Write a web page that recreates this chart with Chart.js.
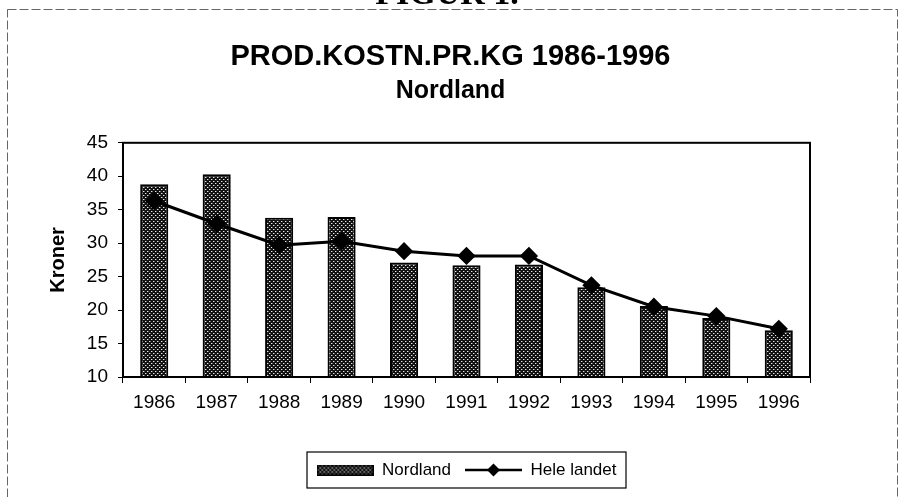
<!DOCTYPE html>
<html>
<head>
<meta charset="utf-8">
<script src="https://cdn.jsdelivr.net/npm/chart.js@4.4.1/dist/chart.umd.min.js"></script>
<style>
    html, body { margin: 0; padding: 0; background: #fff; }
</style>
</head>
<body>
<canvas id="GraficoProdKostn" width="901" height="497"></canvas>
<script>
/* Data lest av figuren */
var aar = ['1986', '1987', '1988', '1989', '1990', '1991', '1992', '1993', '1994', '1995', '1996'];
var nordland = [38.8, 40.3, 33.8, 33.9, 27.1, 26.7, 26.8, 23.4, 20.6, 18.8, 17.0];
var heleLandet = [36.3, 32.9, 29.7, 30.3, 28.8, 28.1, 28.1, 23.7, 20.5, 19.1, 17.2];
var yMin = 10, yMax = 45, ySteg = 5;

var fonte = "'Liberation Sans', Arial, sans-serif";

/* Prikkemønster for søylene */
function LagMonster() {
    var c = document.createElement('canvas');
    c.width = 4; c.height = 4;
    var g = c.getContext('2d');
    g.fillStyle = '#111';
    g.fillRect(0, 0, 4, 4);
    g.fillStyle = '#e8e8e8';
    g.fillRect(1, 1, 1, 1);
    g.fillRect(3, 3, 1, 1);
    g.fillStyle = '#666';
    g.fillRect(2, 1, 1, 1);
    g.fillRect(0, 3, 1, 1);
    return g.createPattern(c, 'repeat');
}

function LegendSoyle(monster) {
    var c = document.createElement('canvas');
    c.width = 57; c.height = 11;
    var g = c.getContext('2d');
    g.fillStyle = monster;
    g.fillRect(0, 0, 57, 11);
    g.strokeStyle = '#000';
    g.lineWidth = 1.5;
    g.strokeRect(0.75, 0.75, 55.5, 9.5);
    return c;
}

function LegendLinje() {
    var c = document.createElement('canvas');
    c.width = 57; c.height = 14;
    var g = c.getContext('2d');
    g.strokeStyle = '#000';
    g.lineWidth = 2.5;
    g.beginPath();
    g.moveTo(0, 7); g.lineTo(57, 7);
    g.stroke();
    g.fillStyle = '#000';
    g.beginPath();
    g.moveTo(28.5, 0.5); g.lineTo(35, 7); g.lineTo(28.5, 13.5); g.lineTo(22, 7);
    g.closePath();
    g.fill();
    return c;
}

var ctx = document.getElementById('GraficoProdKostn').getContext('2d');
var monster = LagMonster();
var bildeSoyle = LegendSoyle(monster);
var bildeLinje = LegendLinje();

/* Ramme, toppskrift og boks rundt plott og forklaring */
var rammePlugin = {
    id: 'ramme',
    beforeDraw: function (chart) {
        var g = chart.ctx;
        g.save();
        g.fillStyle = '#fff';
        g.fillRect(0, 0, chart.width, chart.height);
        g.strokeStyle = '#666';
        g.lineWidth = 1;
        g.setLineDash([9, 3]);
        g.strokeRect(7.5, 9.5, 890, 500);
        g.setLineDash([]);
        g.fillStyle = '#000';
        g.font = "bold 34px 'Liberation Serif', serif";
        g.textAlign = 'center';
        g.textBaseline = 'alphabetic';
        g.fillText('FIGUR 1.', 447, 4);
        g.restore();
    },
    afterDraw: function (chart) {
        var g = chart.ctx;
        var a = chart.chartArea;
        g.save();
        g.strokeStyle = '#000';
        g.lineWidth = 2;
        g.strokeRect(a.left, a.top, a.right - a.left, a.bottom - a.top);

        var bokser = chart.legend.legendHitBoxes;
        if (bokser && bokser.length) {
            var venstre = bokser[0].left, hoyre = 0, topp = bokser[0].top, bunn = 0;
            bokser.forEach(function (b) {
                venstre = Math.min(venstre, b.left);
                hoyre = Math.max(hoyre, b.left + b.width);
                topp = Math.min(topp, b.top);
                bunn = Math.max(bunn, b.top + b.height);
            });
            g.lineWidth = 1.2;
            g.strokeRect(venstre - 9.5, topp - 9.5, hoyre - venstre + 19, bunn - topp + 19);
        }
        g.restore();
    }
};

var grafico = new Chart(ctx, {
    type: 'bar',
    data: {
        labels: aar,
        datasets: [{
            type: 'bar',
            label: 'Nordland',
            data: nordland,
            backgroundColor: monster,
            borderColor: '#000',
            borderWidth: 2,
            categoryPercentage: 0.5,
            barPercentage: 0.9,
            order: 2
        }, {
            type: 'line',
            label: 'Hele landet',
            data: heleLandet,
            borderColor: '#000',
            borderWidth: 3,
            backgroundColor: '#000',
            pointStyle: 'rectRot',
            pointRadius: 7,
            pointBackgroundColor: '#000',
            pointBorderColor: '#000',
            tension: 0,
            order: 1
        }]
    },
    options: {
        responsive: false,
        animation: false,
        layout: { padding: { left: 10, right: 10, top: 0, bottom: 8.5 } },
        plugins: {
            tooltip: { enabled: false },
            title: {
                display: true,
                text: 'PROD.KOSTN.PR.KG 1986-1996',
                color: '#000',
                font: { family: fonte, size: 29, weight: 'bold' },
                padding: { top: 40, bottom: 1 }
            },
            subtitle: {
                display: true,
                text: 'Nordland',
                color: '#000',
                font: { family: fonte, size: 25, weight: 'bold' },
                padding: { top: 0, bottom: 37 }
            },
            legend: {
                position: 'bottom',
                fullSize: false,
                labels: {
                    color: '#000',
                    font: { family: fonte, size: 17 },
                    usePointStyle: true,
                    pointStyleWidth: 57,
                    padding: 14,
                    generateLabels: function (chart) {
                        return [{
                            text: 'Nordland',
                            pointStyle: bildeSoyle,
                            fillStyle: monster,
                            strokeStyle: '#000',
                            lineWidth: 0,
                            datasetIndex: 0,
                            fontColor: '#000'
                        }, {
                            text: 'Hele landet',
                            pointStyle: bildeLinje,
                            fillStyle: '#000',
                            strokeStyle: '#000',
                            lineWidth: 0,
                            datasetIndex: 1,
                            fontColor: '#000'
                        }];
                    }
                }
            }
        },
        scales: {
            x: {
                grid: {
                    offset: true,
                    drawOnChartArea: false,
                    drawTicks: true,
                    tickLength: 6,
                    color: '#000',
                    lineWidth: 1
                },
                border: { color: '#000', width: 2 },
                ticks: {
                    color: '#000',
                    font: { family: fonte, size: 19 },
                    padding: 8,
                    maxRotation: 0
                },
                afterFit: function (scale) { scale.height = 70.5; }
            },
            y: {
                min: yMin,
                max: yMax,
                grid: {
                    drawOnChartArea: false,
                    drawTicks: true,
                    tickLength: 5,
                    color: '#000',
                    lineWidth: 1
                },
                border: { color: '#000', width: 2 },
                ticks: {
                    stepSize: ySteg,
                    color: '#000',
                    font: { family: fonte, size: 19 },
                    padding: 10
                },
                title: {
                    display: true,
                    text: 'Kroner',
                    color: '#000',
                    font: { family: fonte, size: 20, weight: 'bold' },
                    padding: { top: 36, bottom: 0 }
                },
                afterFit: function (scale) { scale.width = 113; }
            },
            hoyre: {
                position: 'right',
                display: true,
                grid: { display: false },
                border: { display: false },
                ticks: { display: false },
                afterFit: function (scale) { scale.width = 81; }
            }
        }
    },
    plugins: [rammePlugin]
});
</script>
</body>
</html>
